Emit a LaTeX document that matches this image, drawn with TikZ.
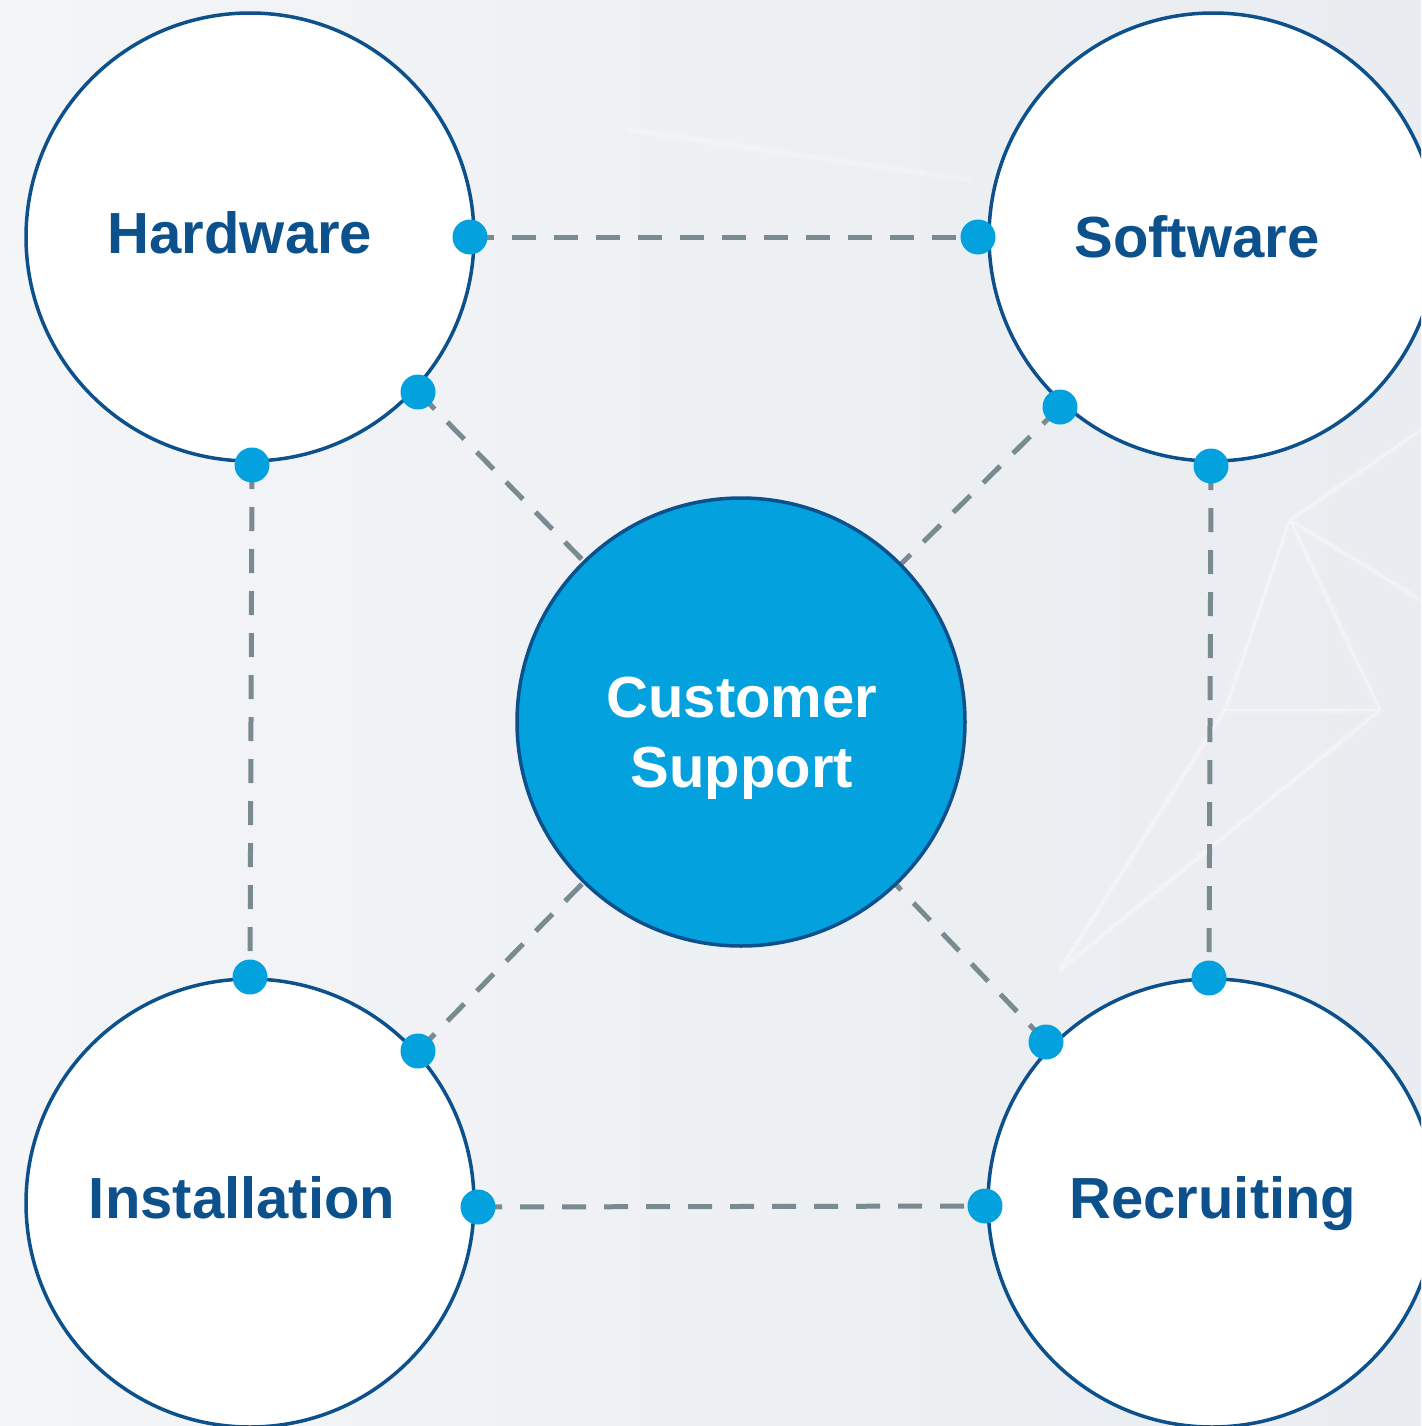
\documentclass[tikz,border=0pt]{standalone}
\usepackage{fontspec}
\setmainfont{Liberation Sans}
\definecolor{navy}{RGB}{12,80,140}
\definecolor{sky}{RGB}{3,161,222}
\definecolor{dashgray}{RGB}{122,138,145}
\definecolor{bgA}{RGB}{243,245,247}
\definecolor{bgB}{RGB}{233,236,240}
\tikzset{
  topic/.style={circle,draw=navy,line width=3.5pt,fill=white,minimum size=448pt,inner sep=0pt},
  hub/.style={circle,draw=navy,line width=3.5pt,fill=sky,minimum size=448pt,inner sep=0pt},
  toptext/.style={text=navy,font=\bfseries\fontsize{58}{70}\selectfont,align=center,anchor=base},
  hubtext/.style={text=white,font=\bfseries\fontsize{58}{70}\selectfont,align=center},
  dot/.style={circle,fill=sky,minimum size=35pt,inner sep=0pt},
  link/.style={draw=dashgray,line width=5pt,dash pattern=on 24pt off 18pt},
  glow/.style={draw=white,line width=7pt,opacity=0.18,line cap=round},
  glowcore/.style={draw=white,line width=2pt,opacity=0.35,line cap=round}
}
\begin{document}
\begin{tikzpicture}[x=1pt,y=-1pt]
\useasboundingbox (0,0) rectangle (1421,1426);
\clip (0,0) rectangle (1421,1426);
\shade[left color=bgA,right color=bgB] (0,0) rectangle (1421,1426);
% faint network lines in the background
\coordinate (g1) at (1290,520);
\coordinate (g2) at (1225,710);
\coordinate (g3) at (1380,710);
\coordinate (g4) at (1060,970);
\coordinate (g5) at (1421,430);
\coordinate (g6) at (1421,600);
\coordinate (g7) at (630,130);
\coordinate (g8) at (970,180);
\foreach \s in {glow,glowcore}{
  \draw[\s] (g1) -- (g2) (g1) -- (g3) (g1) -- (g5) (g1) -- (g6) (g2) -- (g4) (g3) -- (g4) (g2) -- (g3);
  \draw[\s,opacity=0.15] (g7) -- (g8);
}

% nodes
\node[topic] (hw) at (250,237) {};
\node[topic] (sw) at (1213,237) {};
\node[topic] (in) at (250,1203) {};
\node[topic] (rc) at (1212,1203) {};

% connection dots (positions)
\coordinate (p1) at (470,237);
\coordinate (p2) at (978,237);
\coordinate (p3) at (418,392);
\coordinate (p4) at (1060,407);
\coordinate (p5) at (252,465);
\coordinate (p6) at (1211,466);
\coordinate (p7) at (250,977);
\coordinate (p8) at (1209,978);
\coordinate (p9) at (418,1051);
\coordinate (p10) at (1046,1042);
\coordinate (p11) at (478,1207);
\coordinate (p12) at (985,1206);
\coordinate (cc) at (741,722);

% dashed connectors
\draw[link] (p1) -- (p2);
\draw[link] (p11) -- (p12);
\draw[link] (p5) -- (p7);
\draw[link] (p6) -- (p8);
\draw[link] (p3) -- (cc);
\draw[link] (p4) -- (cc);
\draw[link] (p9) -- (cc);
\draw[link] (p10) -- (cc);

% hub
\node[hub] (cs) at (cc) {};

% texts
\node[toptext] (hwt) at (240,253) {Hardware};
\node[toptext] (swt) at (1197,257) {Software};
\node[toptext] (int) at (242,1218) {Installation};
\node[toptext] (rct) at (1213,1218) {Recruiting};
\node[hubtext] (cst) at (742,738) {Customer\\Support};

% dots
\foreach \p in {p1,p2,p3,p4,p5,p6,p7,p8,p9,p10,p11,p12}
  \node[dot] (d\p) at (\p) {};
\end{tikzpicture}
\end{document}
